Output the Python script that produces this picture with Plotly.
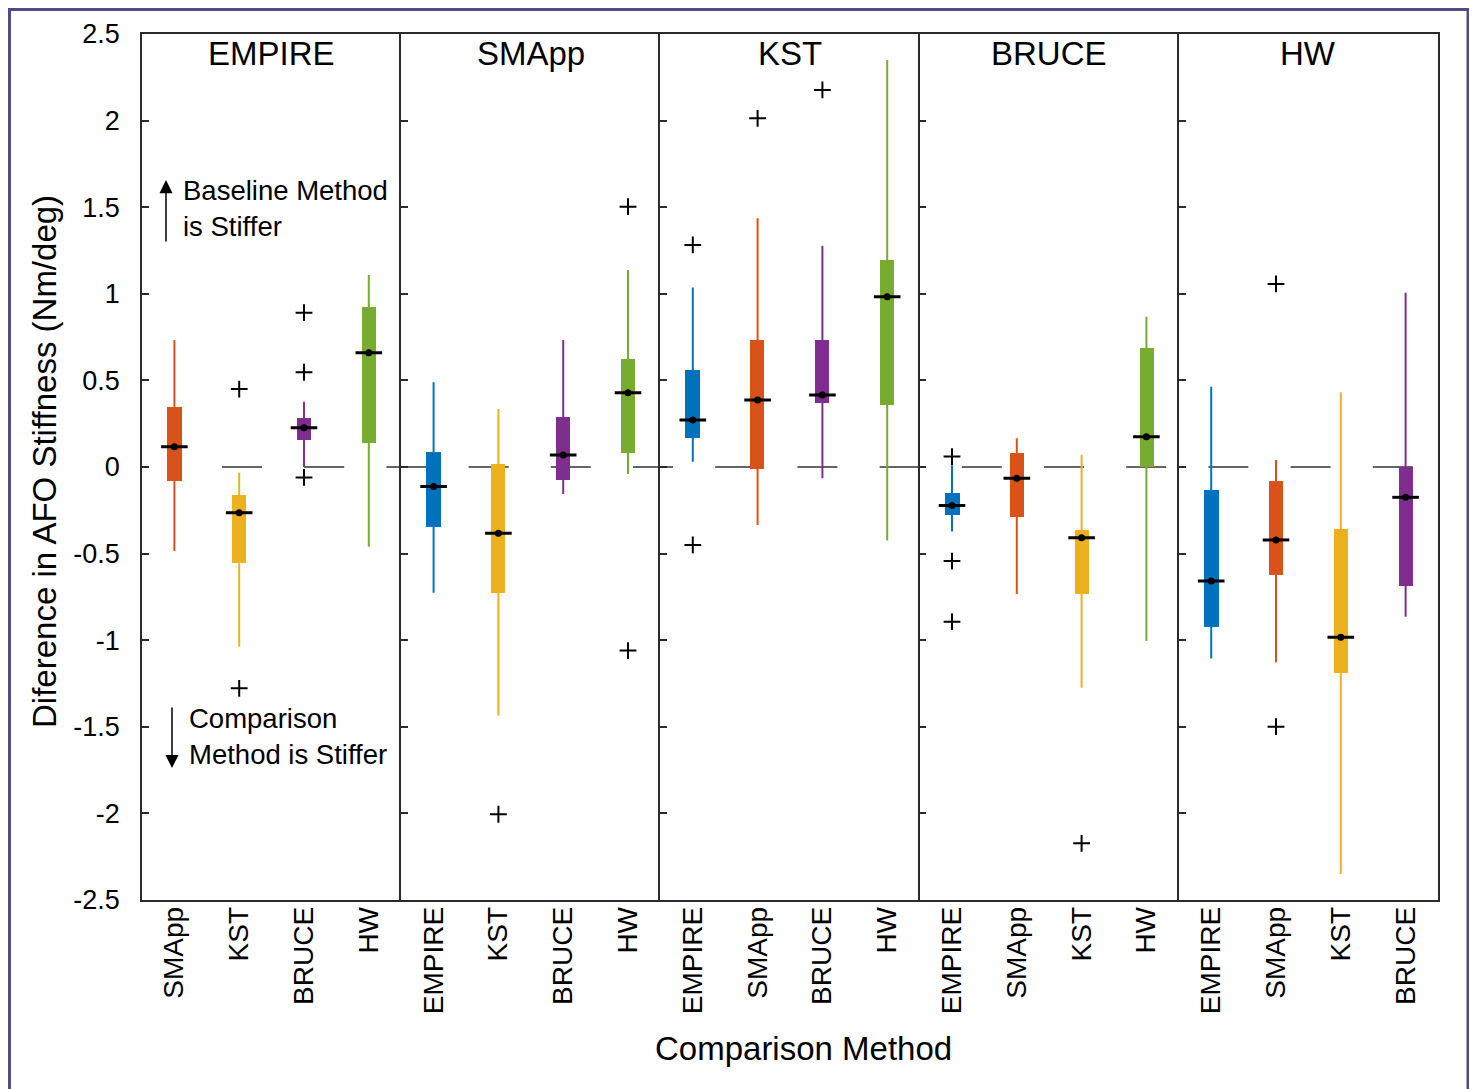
import plotly.graph_objects as go
from plotly.subplots import make_subplots

# ---------------- data ----------------
baselines = ["EMPIRE", "SMApp", "KST", "BRUCE", "HW"]
comparisons = [
    ["SMApp", "KST", "BRUCE", "HW"],
    ["EMPIRE", "KST", "BRUCE", "HW"],
    ["EMPIRE", "SMApp", "BRUCE", "HW"],
    ["EMPIRE", "SMApp", "KST", "HW"],
    ["EMPIRE", "SMApp", "KST", "BRUCE"],
]
whisker_low = [
    [-0.485, -1.037, 0.0, -0.46],
    [-0.726, -1.436, -0.156, -0.04],
    [0.031, -0.335, -0.065, -0.425],
    [-0.373, -0.733, -1.274, -1.005],
    [-1.105, -1.128, -2.35, -0.864],
]
q1 = [
    [-0.081, -0.556, 0.156, 0.137],
    [-0.345, -0.729, -0.075, 0.079],
    [0.166, -0.013, 0.368, 0.358],
    [-0.277, -0.287, -0.733, 0.0],
    [-0.922, -0.624, -1.191, -0.687],
]
median = [
    [0.117, -0.264, 0.227, 0.66],
    [-0.113, -0.383, 0.069, 0.429],
    [0.271, 0.387, 0.416, 0.983],
    [-0.223, -0.065, -0.408, 0.175],
    [-0.658, -0.421, -0.983, -0.175],
]
q3 = [
    [0.348, -0.162, 0.281, 0.922],
    [0.085, 0.017, 0.287, 0.624],
    [0.56, 0.733, 0.733, 1.195],
    [-0.152, 0.079, -0.364, 0.689],
    [-0.133, -0.079, -0.358, 0.0],
]
whisker_high = [
    [0.733, -0.033, 0.377, 1.109],
    [0.489, 0.335, 0.733, 1.137],
    [1.037, 1.436, 1.278, 2.35],
    [0.01, 0.166, 0.069, 0.868],
    [0.464, 0.04, 0.431, 1.006],
]
outliers = [
    [[], [0.45, -1.278], [0.891, 0.547, -0.06], []],
    [[], [-2.005], [], [1.503, -1.06]],
    [[1.282, -0.45], [2.013], [2.177], []],
    [[0.06, -0.543, -0.893], [], [-2.173], []],
    [[], [1.057, -1.499], [], []],
]
y_ticks = [2.5, 2, 1.5, 1, 0.5, 0, -0.5, -1, -1.5, -2, -2.5]
y_ticktext = ["2.5", "2", "1.5", "1", "0.5", "0", "-0.5", "-1", "-1.5", "-2", "-2.5"]

colors = {
    "EMPIRE": "#0072BD",
    "SMApp": "#D95319",
    "KST": "#EDB120",
    "BRUCE": "#7E2F8E",
    "HW": "#77AC30",
}

FONT = "Liberation Sans, Arial, sans-serif"
AXC = "#2b2b2b"

fig = make_subplots(rows=1, cols=5, shared_yaxes=True, horizontal_spacing=0)

positions = [1, 2, 3, 4]
for p in range(5):
    col = p + 1
    for i, comp in enumerate(comparisons[p]):
        x = positions[i]
        c = colors[comp]
        # whisker
        fig.add_trace(go.Scatter(x=[x, x], y=[whisker_low[p][i], whisker_high[p][i]],
                                 mode="lines", line=dict(color=c, width=2),
                                 showlegend=False, hoverinfo="skip"), row=1, col=col)
        # box
        fig.add_trace(go.Bar(x=[x], y=[q3[p][i] - q1[p][i]], base=[q1[p][i]],
                             width=0.22, marker=dict(color=c, line=dict(width=0)),
                             showlegend=False, hoverinfo="skip"), row=1, col=col)
        # median line + dot
        fig.add_trace(go.Scatter(x=[x], y=[median[p][i]], mode="markers",
                                 marker=dict(symbol="line-ew", size=19,
                                             line=dict(color="black", width=3)),
                                 showlegend=False, hoverinfo="skip"), row=1, col=col)
        fig.add_trace(go.Scatter(x=[x], y=[median[p][i]], mode="markers",
                                 marker=dict(symbol="circle", size=7, color="black"),
                                 showlegend=False, hoverinfo="skip"), row=1, col=col)
        # outliers
        if outliers[p][i]:
            fig.add_trace(go.Scatter(x=[x] * len(outliers[p][i]), y=outliers[p][i],
                                     mode="markers",
                                     marker=dict(symbol="cross-thin", size=12,
                                                 line=dict(color="black", width=2)),
                                     showlegend=False, hoverinfo="skip"), row=1, col=col)

    fig.update_xaxes(range=[0.5, 4.5], tickvals=positions, ticktext=comparisons[p],
                     tickangle=-90, ticks="", showline=True, mirror=True,
                     linecolor=AXC, linewidth=1.5, showgrid=False, zeroline=False,
                     tickfont=dict(family=FONT, size=28, color="black"),
                     ticklabelstandoff=-6,
                     row=1, col=col)
    fig.update_yaxes(range=[-2.5, 2.5], tickvals=y_ticks, ticktext=y_ticktext,
                     ticks="inside", ticklen=7, tickwidth=1.5, tickcolor=AXC,
                     showline=True, mirror=(col == 5), linecolor=AXC, linewidth=1.5,
                     showgrid=False, zeroline=False,
                     row=1, col=col)
    # panel title
    fig.add_annotation(text=baselines[p], x=2.5, y=0.978, xref=f"x{'' if col == 1 else col}",
                       yref="paper", showarrow=False, xanchor="center", yanchor="middle",
                       font=dict(family=FONT, size=33, color="black"))

fig.update_yaxes(showticklabels=True, tickfont=dict(family=FONT, size=27, color="black"),
                 ticklabelstandoff=15, row=1, col=1)

# page geometry (the page body adds an 8 px offset)
OFF = 8
W, H = 1477 - OFF, 1089 - OFF
L, R, T, B = 134, 39, 26, 189
pw, ph = W - L - R, H - T - B
def px_x(px):
    return (px - OFF - L) / pw
def px_y(py):
    return (H - B - (py - OFF)) / ph

# zero reference line (dashed, continuous across panels)
fig.add_shape(type="line", xref="paper", yref="y", x0=px_x(222), x1=px_x(1438), y0=0, y1=0,
              line=dict(color="#333333", width=1.5, dash="40px,42.2px"), layer="below")

# axis titles as annotations
fig.add_annotation(text="Diference in AFO Stiffness (Nm/deg)", xref="paper", yref="paper",
                   x=px_x(44), y=px_y(462), textangle=-90, showarrow=False,
                   xanchor="center", yanchor="middle",
                   font=dict(family=FONT, size=33, color="black"))
fig.add_annotation(text="Comparison Method", xref="paper", yref="paper",
                   x=px_x(803), y=px_y(1048), showarrow=False,
                   xanchor="center", yanchor="middle",
                   font=dict(family=FONT, size=33, color="black"))

# direction notes
fig.add_annotation(text="Baseline Method<br>is Stiffer", xref="paper", yref="paper",
                   x=px_x(181), y=px_y(209), xanchor="left", yanchor="middle", align="left",
                   showarrow=False, font=dict(family=FONT, size=27.5, color="black"))
fig.add_annotation(x=px_x(166), y=px_y(180), ax=0, ay=63,
                   xref="paper", yref="paper", axref="pixel", ayref="pixel",
                   text="", showarrow=True, arrowhead=2, arrowsize=1.75, arrowwidth=1.5,
                   arrowcolor="black")
fig.add_annotation(text="Comparison<br>Method is Stiffer", xref="paper", yref="paper",
                   x=px_x(187), y=px_y(736), xanchor="left", yanchor="middle", align="left",
                   showarrow=False, font=dict(family=FONT, size=27.5, color="black"))
fig.add_annotation(x=px_x(172), y=px_y(768), ax=0, ay=-62,
                   xref="paper", yref="paper", axref="pixel", ayref="pixel",
                   text="", showarrow=True, arrowhead=2, arrowsize=1.75, arrowwidth=1.5,
                   arrowcolor="black")

# outer purple frame
fig.add_shape(type="rect", xref="paper", yref="paper",
              x0=px_x(9.5), x1=px_x(1468), y0=px_y(1100), y1=px_y(9.5),
              line=dict(color="#54498a", width=3), fillcolor="rgba(0,0,0,0)", layer="above")

fig.update_layout(
    width=W, height=H,
    margin=dict(l=L, r=R, t=T, b=B),
    paper_bgcolor="white", plot_bgcolor="white",
    barmode="overlay", bargap=0,
    showlegend=False,
    font=dict(family=FONT, color="black"),
)

fig.write_html("out.html")
